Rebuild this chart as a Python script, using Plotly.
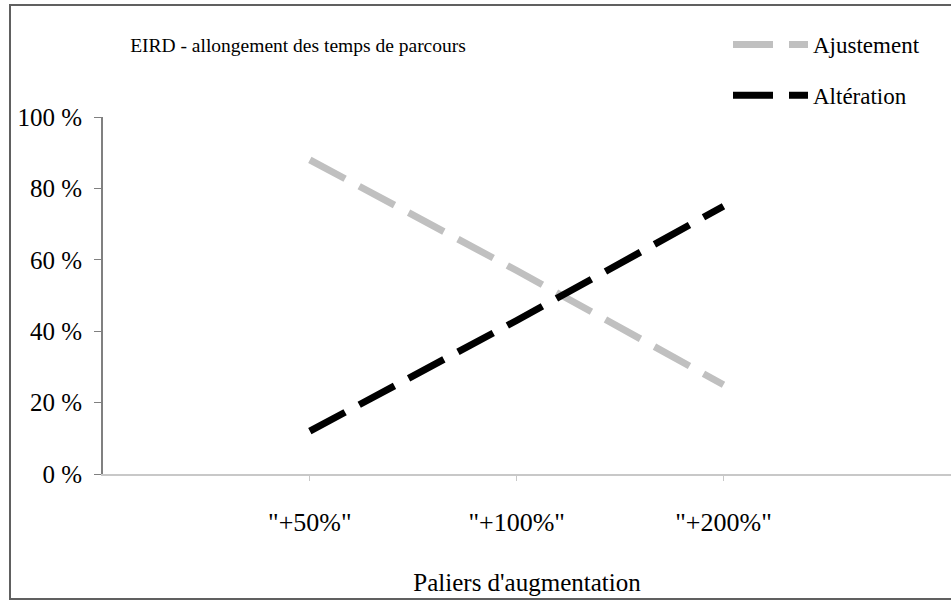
import plotly.graph_objects as go

categories = ['"+50%"', '"+100%"', '"+200%"']
ajustement = [88, 57, 25]
alteration = [12, 43, 75]
y_ticks = [0, 20, 40, 60, 80, 100]
y_tick_text = [f"{v} %" for v in y_ticks]

W, H = 951, 600
L, R, T, B = 103, 0, 117, 126
pw, ph = W - L - R, H - T - B

def px_x(p):
    return (p - L) / pw

def px_y(p):
    return (H - B - p) / ph

FONT = "Liberation Serif, Times New Roman, serif"

fig = go.Figure()
fig.add_trace(go.Scatter(
    x=categories, y=ajustement, mode="lines", name="Ajustement",
    legendgroup="a",
    line=dict(color="#c0c0c0", width=7, dash="40px,16px"),
))
fig.add_trace(go.Scatter(
    x=categories, y=alteration, mode="lines", name="Altération",
    legendgroup="b",
    line=dict(color="#000000", width=7, dash="40px,16px"),
))

fig.update_layout(
    width=W, height=H,
    margin=dict(l=L, r=R, t=T, b=B, pad=0),
    paper_bgcolor="white", plot_bgcolor="white",
    font=dict(family=FONT, color="#000", size=22),
    title=dict(text="EIRD - allongement des temps de parcours",
               x=298 / W, xref="container", xanchor="center",
               y=1 - 45 / H, yref="container", yanchor="middle",
               font=dict(family=FONT, size=19.5, color="#000")),
    showlegend=True,
    legend=dict(x=px_x(728), xanchor="left", y=px_y(23), yanchor="top",
                font=dict(family=FONT, size=23, color="#000"),
                tracegroupgap=18, itemwidth=75, bgcolor="rgba(0,0,0,0)"),
    xaxis=dict(type="category", range=[-1, 3.1], showgrid=False, zeroline=False,
               showline=True, linecolor="#c8c8c8", linewidth=2,
               ticks="outside", ticklen=5, tickcolor="#c8c8c8",
               ticklabelstandoff=19,
               tickfont=dict(family=FONT, size=26, color="#000"),
               title=dict(text="Paliers d'augmentation", standoff=37,
                          font=dict(family=FONT, size=25, color="#000"))),
    yaxis=dict(range=[0, 100], tickmode="array", tickvals=y_ticks,
               ticktext=y_tick_text,
               showgrid=False, zeroline=False,
               showline=True, linecolor="#808080", linewidth=2,
               ticks="outside", ticklen=7, tickcolor="#808080",
               ticklabelstandoff=7,
               tickfont=dict(family=FONT, size=25, color="#000")),
    shapes=[dict(type="rect", xref="paper", yref="paper",
                 x0=px_x(10), x1=px_x(980), y0=px_y(599), y1=px_y(5),
                 line=dict(color="#606060", width=2), fillcolor="rgba(0,0,0,0)")],
)

fig.write_html("out.html", config={"displayModeBar": False},
               post_script="document.body.style.margin='0';")
